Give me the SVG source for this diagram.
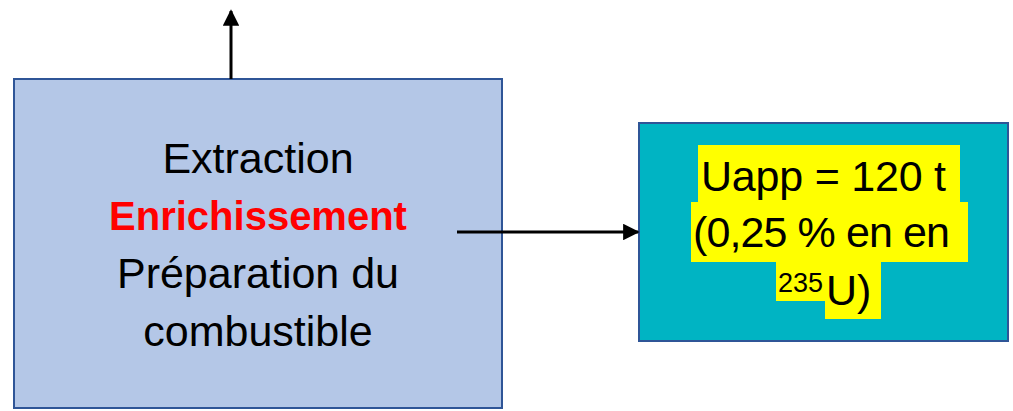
<svg xmlns="http://www.w3.org/2000/svg" width="1013" height="411" viewBox="0 0 1013 411">
  <style>
    .lbl { font-family: "Liberation Sans", Arial, sans-serif; font-size: 43px; fill: #000; }
    .red { font-weight: bold; fill: #FF0000; font-size: 40px; }
    .hl { fill: #FFFF00; }
    .conn { stroke: #000; stroke-width: 3; fill: none; }
  </style>
  <defs>
    <marker id="arrow" viewBox="0 0 10 10" refX="9" refY="5" markerWidth="5.5" markerHeight="5.5" markerUnits="strokeWidth" orient="auto">
      <path d="M0,0 L10,5 L0,10 z" fill="#000"/>
    </marker>
  </defs>
  <rect width="1013" height="411" fill="#fff"/>

  <!-- Process box -->
  <g id="process">
    <rect x="14" y="79" width="488" height="329" fill="#B4C7E7" stroke="#2F5597" stroke-width="2"/>
    <text class="lbl" x="258" y="173" text-anchor="middle">Extraction</text>
    <text class="lbl red" x="258" y="230" text-anchor="middle">Enrichissement</text>
    <text class="lbl" x="258" y="288" text-anchor="middle">Préparation du</text>
    <text class="lbl" x="258" y="346" text-anchor="middle">combustible</text>
  </g>

  <!-- Depleted uranium output box -->
  <g id="uapp">
    <rect x="639" y="123" width="369" height="218" fill="#00B4C3" stroke="#2F5597" stroke-width="2"/>
    <rect class="hl" x="698" y="145" width="262" height="58"/>
    <rect class="hl" x="691" y="202" width="277" height="60"/>
    <rect class="hl" x="776" y="261" width="50" height="40"/>
    <rect class="hl" x="825" y="261" width="56" height="58"/>
    <text class="lbl" x="701" y="191" textLength="245" lengthAdjust="spacing">Uapp = 120 t</text>
    <text class="lbl" x="693" y="247" textLength="257" lengthAdjust="spacing">(0,25 % en en</text>
    <text class="lbl" x="778" y="292" style="font-size:27px">235</text>
    <text class="lbl" x="826" y="305">U)</text>
  </g>

  <!-- Connectors -->
  <g id="connectors">
    <line class="conn" x1="231" y1="79" x2="231" y2="11" marker-end="url(#arrow)"/>
    <line class="conn" x1="457" y1="232" x2="638" y2="232" marker-end="url(#arrow)"/>
  </g>
</svg>
